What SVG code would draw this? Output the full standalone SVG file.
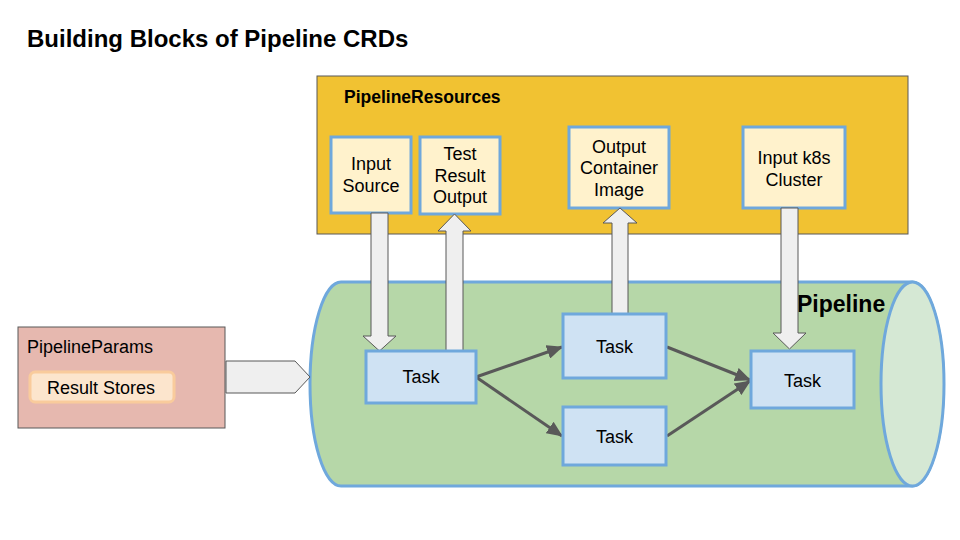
<svg xmlns="http://www.w3.org/2000/svg" width="960" height="540" viewBox="0 0 960 540">
<defs>
<style>
text{font-family:"Liberation Sans",Arial,sans-serif;fill:#000}
.b{font-weight:bold}
.t18{font-size:18px}
.mid{text-anchor:middle}
.res{fill:#fff2cc;stroke:#6fa8dc;stroke-width:3}
.task{fill:#cfe2f3;stroke:#6fa8dc;stroke-width:3}
.blk{fill:#efefef;stroke:#595959;stroke-width:1}
.con{fill:none;stroke:#595959;stroke-width:3;marker-end:url(#ah)}
</style>
<marker id="ah" markerUnits="userSpaceOnUse" viewBox="0 0 16 14" refX="15" refY="7" markerWidth="16" markerHeight="14" orient="auto">
<path d="M0,0 L16,7 L0,14 Z" fill="#595959"/>
</marker>
</defs>
<rect width="960" height="540" fill="#fff"/>
<text x="27" y="47" class="b" font-size="24">Building Blocks of Pipeline CRDs</text>

<g id="pipelineresources">
<rect x="317" y="76" width="591" height="158" fill="#f1c232" stroke="#595959" stroke-width="1"/>
<text x="344" y="103" class="b" font-size="17.5">PipelineResources</text>
</g>

<g id="pipeline">
<path d="M341,282 H912 A31.5,102 0 0 1 912,486 H341 A31,102 0 0 1 341,282 Z" fill="#b6d7a8" stroke="#6fa8dc" stroke-width="3"/>
<ellipse cx="912.5" cy="384" rx="31.5" ry="102" fill="#d5e8d4" stroke="#6fa8dc" stroke-width="3"/>
<text x="797" y="312" class="b" font-size="23">Pipeline</text>
</g>

<g id="input-source">
<rect x="331" y="137" width="80" height="76" class="res"/>
<text x="371" y="170" class="t18 mid">Input</text>
<text x="371" y="192" class="t18 mid">Source</text>
</g>
<g id="test-result-output">
<rect x="420" y="137" width="80" height="77" class="res"/>
<text x="460" y="160" class="t18 mid">Test</text>
<text x="460" y="182" class="t18 mid">Result</text>
<text x="460" y="203" class="t18 mid">Output</text>
</g>
<g id="output-container-image">
<rect x="569" y="127" width="100" height="81" class="res"/>
<text x="619" y="153" class="t18 mid">Output</text>
<text x="619" y="174" class="t18 mid">Container</text>
<text x="619" y="196" class="t18 mid">Image</text>
</g>
<g id="input-k8s-cluster">
<rect x="743" y="127" width="102" height="81" class="res"/>
<text x="794" y="164" class="t18 mid">Input k8s</text>
<text x="794" y="186" class="t18 mid">Cluster</text>
</g>

<g id="pipelineparams">
<rect x="18" y="327" width="207" height="101" fill="#e6b8af" stroke="#595959" stroke-width="1"/>
<text x="27" y="353" class="t18">PipelineParams</text>
<rect x="30" y="372" width="144" height="30" rx="5" fill="#fce5cd" stroke="#f9cb9c" stroke-width="3"/>
<text x="101" y="394" class="t18 mid">Result Stores</text>
</g>

<g id="connectors">
<path class="blk" d="M226,361 H295 L310,377 L295,393 H226 Z"/>
<path class="blk" d="M371,213 H388 V336 H396 L379.5,351 L363,336 H371 Z"/>
<path class="blk" d="M446,351 V231 H438 L454.5,214 L471,231 H463 V351 Z"/>
<path class="blk" d="M612,314 V223 H603 L620,208 L637,223 H628 V314 Z"/>
<path class="blk" d="M781,208 H798 V333 H806 L789.5,349 L773,333 H781 Z"/>
<line class="con" x1="476" y1="377" x2="562" y2="347"/>
<line class="con" x1="476" y1="377" x2="562" y2="436"/>
<line class="con" x1="667" y1="347" x2="750" y2="380"/>
<line class="con" x1="667" y1="436" x2="750" y2="381"/>
</g>

<g id="task1">
<rect x="366" y="351" width="110" height="52" class="task"/>
<text x="421" y="383" class="t18 mid">Task</text>
</g>
<g id="task2">
<rect x="563" y="314" width="103" height="64" class="task"/>
<text x="614.5" y="353" class="t18 mid">Task</text>
</g>
<g id="task3">
<rect x="563" y="407" width="103" height="58" class="task"/>
<text x="614.5" y="443" class="t18 mid">Task</text>
</g>
<g id="task4">
<rect x="751" y="351" width="103" height="57" class="task"/>
<text x="802.5" y="387" class="t18 mid">Task</text>
</g>
</svg>
